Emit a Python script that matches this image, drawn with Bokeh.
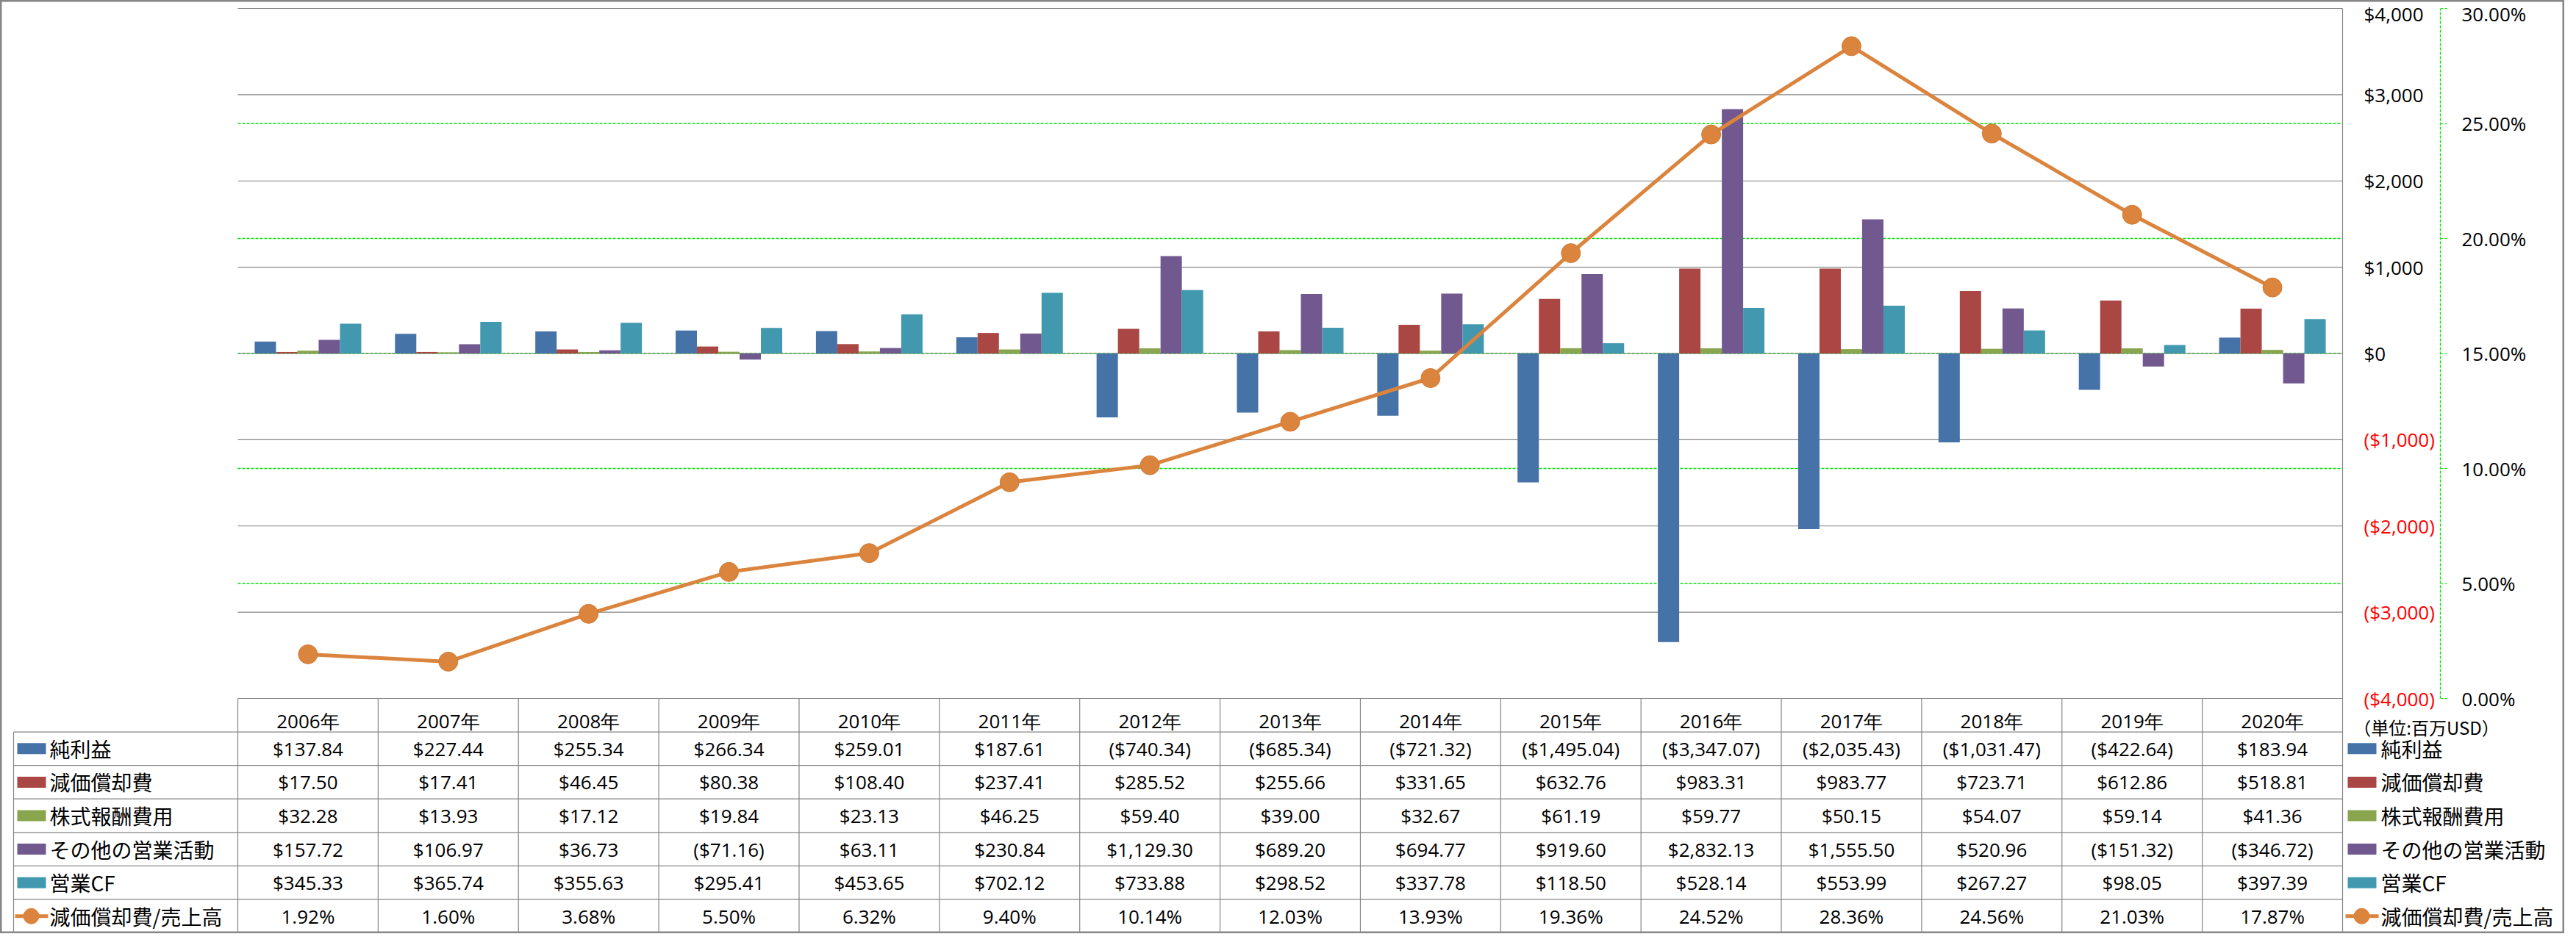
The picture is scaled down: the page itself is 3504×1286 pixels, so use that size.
from bokeh.plotting import figure
from bokeh.models import Range1d, LinearAxis, FixedTicker, ColumnDataSource
from bokeh.transform import dodge
from bokeh.core.properties import value
from bokeh.embed import file_html
from bokeh.resources import INLINE

# ---------------- data ----------------
years = ["2006年", "2007年", "2008年", "2009年", "2010年", "2011年", "2012年", "2013年",
         "2014年", "2015年", "2016年", "2017年", "2018年", "2019年", "2020年"]
series_names = ["純利益", "減価償却費", "株式報酬費用", "その他の営業活動", "営業CF"]
ratio_name = "減価償却費/売上高"
net_income = [137.84, 227.44, 255.34, 266.34, 259.01, 187.61, -740.34, -685.34,
              -721.32, -1495.04, -3347.07, -2035.43, -1031.47, -422.64, 183.94]
depreciation = [17.50, 17.41, 46.45, 80.38, 108.40, 237.41, 285.52, 255.66,
                331.65, 632.76, 983.31, 983.77, 723.71, 612.86, 518.81]
stock_comp = [32.28, 13.93, 17.12, 19.84, 23.13, 46.25, 59.40, 39.00,
              32.67, 61.19, 59.77, 50.15, 54.07, 59.14, 41.36]
other_ops = [157.72, 106.97, 36.73, -71.16, 63.11, 230.84, 1129.30, 689.20,
             694.77, 919.60, 2832.13, 1555.50, 520.96, -151.32, -346.72]
op_cf = [345.33, 365.74, 355.63, 295.41, 453.65, 702.12, 733.88, 298.52,
         337.78, 118.50, 528.14, 553.99, 267.27, 98.05, 397.39]
dep_ratio = [1.92, 1.60, 3.68, 5.50, 6.32, 9.40, 10.14, 12.03,
             13.93, 19.36, 24.52, 28.36, 24.56, 21.03, 17.87]

usd_pos_ticks = [0, 1000, 2000, 3000, 4000]
usd_pos_labels = ["$0", "$1,000", "$2,000", "$3,000", "$4,000"]
usd_neg_ticks = [-4000, -3000, -2000, -1000]
usd_neg_labels = ["($4,000)", "($3,000)", "($2,000)", "($1,000)"]
pct_ticks = [0, 5, 10, 15, 20, 25, 30]
pct_labels = ["0.00%", "5.00%", "10.00%", "15.00%", "20.00%", "25.00%", "30.00%"]
unit_label = "（単位:百万USD）"

# ---------------- styles ----------------
COLORS = ["#4572A7", "#AA4643", "#89A54E", "#71588F", "#4198AF"]
ORANGE = "#DB843D"
GRAY = "#868686"
GREEN = "#00E000"
NUM_FONT = value("Open Sans")
JP_FONT = value("Noto Sans CJK JP")

# ---------------- layout (pixels) ----------------
W, H = 3488, 1270
N = len(years)
X0, X1 = 323, 3186
COLW = (X1 - X0) / N
Y_TOP, Y_BOT = 11, 950
NROWS = 7
ROWH = (H - 1 - Y_BOT) / NROWS
usd_per_px = (usd_pos_ticks[-1] - usd_neg_ticks[0]) / (Y_BOT - Y_TOP)
pct_per_px = (pct_ticks[-1] - pct_ticks[0]) / (Y_BOT - Y_TOP)

def cx(px):
    return (px - X0) / COLW

p = figure(width=W, height=H, output_backend="svg", toolbar_location=None,
           x_axis_type=None, y_axis_type=None,
           x_range=Range1d(cx(0), cx(W)),
           y_range=Range1d(usd_neg_ticks[0] - (H - Y_BOT) * usd_per_px,
                           usd_pos_ticks[-1] + Y_TOP * usd_per_px),
           min_border=0, min_border_left=0, min_border_right=0,
           min_border_top=0, min_border_bottom=0)
p.extra_y_ranges = {
    "pct": Range1d(pct_ticks[0] - (H - Y_BOT) * pct_per_px, pct_ticks[-1] + Y_TOP * pct_per_px),
    "tbl": Range1d((H - Y_BOT) / ROWH, -Y_BOT / ROWH),
}
p.background_fill_color = "white"
p.border_fill_color = "white"
p.outline_line_color = GRAY
p.outline_line_width = 4

xc = [i + 0.5 for i in range(N)]
src = ColumnDataSource(dict(xc=xc, s0=net_income, s1=depreciation, s2=stock_comp,
                            s3=other_ops, s4=op_cf, ratio=dep_ratio))

# gridlines
green_levels = pct_ticks[1:-1]
p.segment(x0=[0] * len(green_levels), x1=[N] * len(green_levels),
          y0=green_levels, y1=green_levels, y_range_name="pct",
          line_color=GREEN, line_width=1.3, line_dash="4 2")
all_usd = usd_neg_ticks + usd_pos_ticks
p.segment(x0=[0] * len(all_usd), x1=[N] * len(all_usd), y0=all_usd, y1=all_usd,
          line_color=GRAY, line_width=1.2)

# bars
BW = 29 / COLW
for k in range(5):
    p.vbar(x=dodge("xc", (k - 2) * BW, range=p.x_range), top="s%d" % k, bottom=0,
           width=BW, source=src, fill_color=COLORS[k], line_color=None)

# ratio line
p.line(x="xc", y="ratio", source=src, y_range_name="pct", line_color=ORANGE, line_width=5)
p.scatter(x="xc", y="ratio", source=src, y_range_name="pct", marker="circle", size=26,
          fill_color=ORANGE, line_color="#D27A33", line_width=1)

# axes
ax_pos = LinearAxis(fixed_location=N, ticker=FixedTicker(ticks=usd_pos_ticks),
                    major_label_overrides=dict(zip(usd_pos_ticks, usd_pos_labels)),
                    bounds=(usd_neg_ticks[0], usd_pos_ticks[-1]),
                    axis_line_color=GRAY, axis_line_width=1.2,
                    major_tick_out=0, major_tick_in=0, minor_tick_out=0, minor_tick_in=0,
                    major_label_standoff=29, major_label_text_font="Open Sans",
                    major_label_text_font_size="26px", major_label_text_color="black")
p.add_layout(ax_pos, "right")
ax_neg = LinearAxis(fixed_location=N, ticker=FixedTicker(ticks=usd_neg_ticks),
                    major_label_overrides=dict(zip(usd_neg_ticks, usd_neg_labels)),
                    axis_line_color=None,
                    major_tick_out=0, major_tick_in=0, minor_tick_out=0, minor_tick_in=0,
                    major_label_standoff=29, major_label_text_font="Open Sans",
                    major_label_text_font_size="26px", major_label_text_color="#FF0000")
p.add_layout(ax_neg, "right")
ax_pct = LinearAxis(y_range_name="pct", fixed_location=N + 133 / COLW,
                    ticker=FixedTicker(ticks=pct_ticks),
                    major_label_overrides=dict(zip(pct_ticks, pct_labels)),
                    bounds=(pct_ticks[0], pct_ticks[-1]),
                    axis_line_color=GREEN, axis_line_width=1.3, axis_line_dash="4 2",
                    major_tick_out=9, major_tick_in=0, minor_tick_out=0, minor_tick_in=0,
                    major_tick_line_color=GREEN, major_tick_line_dash="3 2",
                    major_label_standoff=20, major_label_text_font="Open Sans",
                    major_label_text_font_size="26px", major_label_text_color="black")
p.add_layout(ax_pct, "right")
ax_x = LinearAxis(fixed_location=usd_neg_ticks[0], ticker=FixedTicker(ticks=xc),
                  major_label_overrides=dict(zip(xc, years)),
                  bounds=(0, N), axis_line_color=GRAY, axis_line_width=1.2,
                  major_tick_out=0, major_tick_in=0, minor_tick_out=0, minor_tick_in=0,
                  major_label_standoff=12, major_label_text_font="Open Sans",
                  major_label_text_font_size="26px", major_label_text_color="black")
p.add_layout(ax_x, "below")

# ---------------- data table ----------------
LBL_LEFT = cx(18)
h_y = list(range(1, NROWS + 1))
p.segment(x0=[LBL_LEFT] * len(h_y), x1=[N] * len(h_y), y0=h_y, y1=h_y,
          y_range_name="tbl", line_color=GRAY, line_width=1.2)
v_x = list(range(0, N + 1))
p.segment(x0=v_x, x1=v_x, y0=[0] * len(v_x), y1=[NROWS] * len(v_x),
          y_range_name="tbl", line_color=GRAY, line_width=1.2)
p.segment(x0=[LBL_LEFT], x1=[LBL_LEFT], y0=[1], y1=[NROWS],
          y_range_name="tbl", line_color=GRAY, line_width=1.2)

def fmt_usd(v):
    s = "${:,.2f}".format(abs(v))
    return "(" + s + ")" if v < 0 else s

tx, ty, tt = [], [], []
for r, ser in enumerate([net_income, depreciation, stock_comp, other_ops, op_cf], start=1):
    for i, v in enumerate(ser):
        tx.append(i + 0.5); ty.append(r + 0.5); tt.append(fmt_usd(v))
for i, v in enumerate(dep_ratio):
    tx.append(i + 0.5); ty.append(6.5); tt.append("{:.2f}%".format(v))
p.text(x=tx, y=ty, text=tt, y_range_name="tbl", text_align="center",
       text_baseline="middle", text_font=NUM_FONT, text_font_size="26px", text_color="black")

# legend keys (left column of table and right side)
row_y = [r + 1.5 for r in range(5)]
SW_H = 15 / ROWH
for left_px, text_px in [(23, 67), (3193, 3238)]:
    l, rr = cx(left_px), cx(left_px + 39)
    p.quad(left=[l] * 5, right=[rr] * 5, top=[y - SW_H / 2 for y in row_y],
           bottom=[y + SW_H / 2 for y in row_y], y_range_name="tbl",
           fill_color=COLORS, line_color=None)
    p.segment(x0=[cx(left_px - 3)], x1=[cx(left_px + 42)], y0=[6.5], y1=[6.5],
              y_range_name="tbl", line_color=ORANGE, line_width=5)
    p.scatter(x=[cx(left_px + 19)], y=[6.5], y_range_name="tbl", marker="circle",
              size=21, fill_color=ORANGE, line_color=ORANGE)
    p.text(x=[cx(text_px)] * 6, y=row_y + [6.5], text=series_names + [ratio_name],
           y_range_name="tbl", text_align="left", text_baseline="middle",
           text_font=JP_FONT, text_font_size="28px", text_color="black")

p.text(x=[cx(3300)], y=[0.86], text=[unit_label], y_range_name="tbl",
       text_align="center", text_baseline="middle", text_font=JP_FONT,
       text_font_size="24px", text_color="black")

open("out.html", "w").write(file_html(p, INLINE))
